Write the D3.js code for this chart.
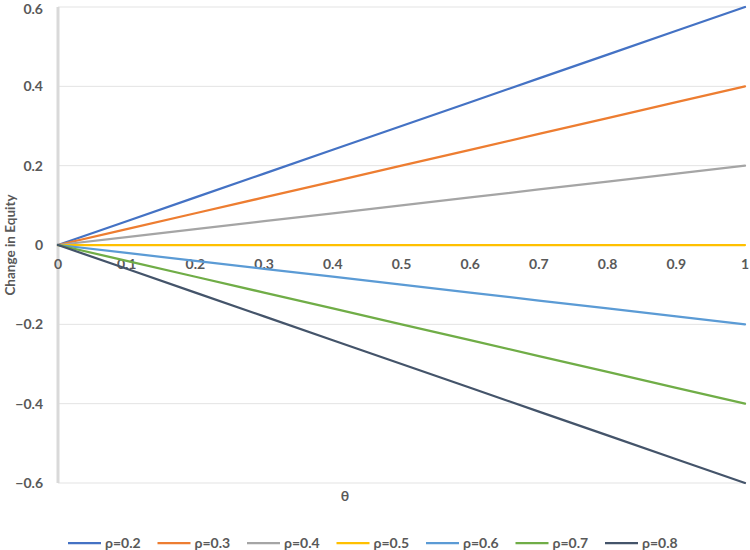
<!DOCTYPE html>
<html>
<head>
<meta charset="utf-8">
<script src="https://cdn.jsdelivr.net/npm/d3@7"></script>
<style>
  body { margin: 0; background: #fff; }
  text { font-family: Lato, "Liberation Sans", sans-serif; font-weight: bold; fill: #595959; }
</style>
</head>
<body>
<div id="chart"></div>
<script>
const thetas = [0, 0.1, 0.2, 0.3, 0.4, 0.5, 0.6, 0.7, 0.8, 0.9, 1];
const seriesNames = ['ρ=0.2', 'ρ=0.3', 'ρ=0.4', 'ρ=0.5', 'ρ=0.6', 'ρ=0.7', 'ρ=0.8'];
const seriesValues = [
  [0, 0.06, 0.12, 0.18, 0.24, 0.30, 0.36, 0.42, 0.48, 0.54, 0.60],
  [0, 0.04, 0.08, 0.12, 0.16, 0.20, 0.24, 0.28, 0.32, 0.36, 0.40],
  [0, 0.02, 0.04, 0.06, 0.08, 0.10, 0.12, 0.14, 0.16, 0.18, 0.20],
  [0, 0, 0, 0, 0, 0, 0, 0, 0, 0, 0],
  [0, -0.02, -0.04, -0.06, -0.08, -0.10, -0.12, -0.14, -0.16, -0.18, -0.20],
  [0, -0.04, -0.08, -0.12, -0.16, -0.20, -0.24, -0.28, -0.32, -0.36, -0.40],
  [0, -0.06, -0.12, -0.18, -0.24, -0.30, -0.36, -0.42, -0.48, -0.54, -0.60]
];
const colors = ['#4472C4', '#ED7D31', '#A5A5A5', '#FFC000', '#5B9BD5', '#70AD47', '#44546A'];
const yTicks = [-0.6, -0.4, -0.2, 0, 0.2, 0.4, 0.6];
const xTicks = [0, 0.1, 0.2, 0.3, 0.4, 0.5, 0.6, 0.7, 0.8, 0.9, 1];

const W = 750, H = 550;
const svg = d3.select('#chart').append('svg').attr('width', W).attr('height', H);

const x = d3.scaleLinear().domain([0, 1]).range([58, 745]);
const y = d3.scaleLinear().domain([-0.6, 0.6]).range([483, 7]);

// gridlines
svg.append('g').selectAll('line')
  .data(yTicks).join('line')
    .attr('x1', x(0)).attr('x2', x(1))
    .attr('y1', d => y(d)).attr('y2', d => y(d))
    .attr('stroke', '#e3e3e3').attr('stroke-width', 1);

// y axis line
svg.append('line')
  .attr('x1', x(0)).attr('x2', x(0)).attr('y1', y(0.6)).attr('y2', y(-0.6))
  .attr('stroke', '#d9d9d9').attr('stroke-width', 3);

// y tick labels (top one nudged down so it stays inside the frame)
svg.append('g').selectAll('text')
  .data(yTicks).join('text')
    .attr('x', 43).attr('y', d => Math.max(y(d), 9)).attr('dy', '0.35em')
    .attr('text-anchor', 'end').attr('font-size', '14px')
    .text(d => d3.format('')(Math.round(d * 10) / 10));

// x tick labels
svg.append('g').selectAll('text')
  .data(xTicks).join('text')
    .attr('x', d => x(d)).attr('y', 264).attr('dy', '0.35em')
    .attr('text-anchor', 'middle').attr('font-size', '14px')
    .text(d => d3.format('')(d));

// lines
const line = d3.line().x((d, i) => x(thetas[i])).y(d => y(d));
svg.append('g').selectAll('path')
  .data(seriesValues).join('path')
    .attr('d', line)
    .attr('fill', 'none')
    .attr('stroke', (d, i) => colors[i])
    .attr('stroke-width', 2.25)
    .attr('stroke-linecap', 'round');

// axis titles
svg.append('text')
  .attr('transform', `translate(15,${y(0)}) rotate(-90)`)
  .attr('text-anchor', 'middle').attr('font-size', '13.5px')
  .text('Change in Equity');

svg.append('text')
  .attr('x', 345).attr('y', 496).attr('dy', '0.35em')
  .attr('text-anchor', 'middle').attr('font-size', '14px')
  .text('θ');

// legend
const legend = svg.append('g').selectAll('g')
  .data(seriesNames).join('g')
    .attr('transform', (d, i) => `translate(${68 + i * 89.5},543)`);
legend.append('line')
  .attr('x1', 0).attr('x2', 33).attr('y1', 0).attr('y2', 0)
  .attr('stroke', (d, i) => colors[i]).attr('stroke-width', 2.25);
legend.append('text')
  .attr('x', 37).attr('y', 0).attr('dy', '0.35em')
  .attr('font-size', '14px')
  .text(d => d);
</script>
</body>
</html>
